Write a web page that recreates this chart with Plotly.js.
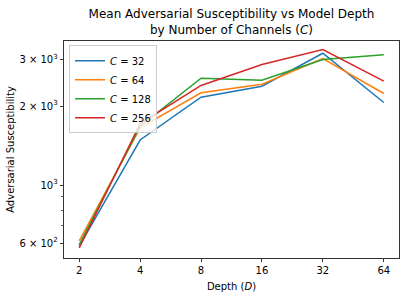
<!DOCTYPE html>
<html>
<head>
<meta charset="utf-8">
<script src="https://cdn.plot.ly/plotly-3.0.1.min.js"></script>
<style>html,body{margin:0;padding:0;background:#fff;}#chart{width:405px;height:300px;}</style>
</head>
<body>
<div id="chart"></div>
<script>
const depths = [2, 4, 8, 16, 32, 64];
const seriesNames = ["<i>C</i> = 32", "<i>C</i> = 64", "<i>C</i> = 128", "<i>C</i> = 256"];
const c32 = [585, 1485, 2163, 2383, 3184, 2064];
const c64 = [612, 1653, 2248, 2425, 3039, 2235];
const c128 = [592, 1677, 2556, 2512, 3013, 3140];
const c256 = [575, 1717, 2398, 2884, 3290, 2490];
const colors = ["#1f77b4", "#ff7f0e", "#2ca02c", "#d62728"];
const yTickVals = [600, 1000, 2000, 3000];
const yTickText = ["6 × 10<sup>2</sup>", "10<sup>3</sup>", "2 × 10<sup>3</sup>", "3 × 10<sup>3</sup>"];
const yMinorVals = [700, 800, 900];
const xTickText = ["2", "4", "8", "16", "32", "64"];

const all = [c32, c64, c128, c256];
const traces = all.map((ys, i) => ({
  x: depths, y: ys, type: "scatter", mode: "lines", name: seriesNames[i],
  line: {color: colors[i], width: 1.5}
}));

const font = {family: "DejaVu Sans, sans-serif", size: 10, color: "#000"};
const layout = {
  width: 405, height: 300,
  margin: {l: 64, r: 6, t: 41, b: 42},
  paper_bgcolor: "#fff", plot_bgcolor: "#fff",
  font: font,
  showlegend: true,
  title: {
    text: "Mean Adversarial Susceptibility vs Model Depth<br>by Number of Channels (<i>C</i>)",
    font: {family: "DejaVu Sans, sans-serif", size: 12, color: "#000"},
    x: 0.5, xref: "paper", xanchor: "center", y: 0.94, yref: "container", yanchor: "middle"
  },
  xaxis: {
    type: "log",
    range: [Math.log10(Math.pow(2, 0.75)), Math.log10(Math.pow(2, 6.25))],
    tickmode: "array", tickvals: depths, ticktext: xTickText,
    ticks: "outside", ticklen: 3.5, tickwidth: 0.8, tickcolor: "#000",
    showline: true, linecolor: "#000", linewidth: 0.8, mirror: true,
    showgrid: false, zeroline: false,
    title: {text: "Depth (<i>D</i>)", font: font, standoff: 7},
    tickfont: font
  },
  yaxis: {
    type: "log",
    range: [2.7214, 3.5496],
    tickmode: "array", tickvals: yTickVals, ticktext: yTickText,
    ticks: "outside", ticklen: 3.5, tickwidth: 0.8, tickcolor: "#000",
    minor: {tickmode: "array", tickvals: yMinorVals, ticks: "outside", ticklen: 2, tickwidth: 0.6, tickcolor: "#000", showgrid: false},
    showline: true, linecolor: "#000", linewidth: 0.8, mirror: true,
    showgrid: false, zeroline: false,
    title: {text: "Adversarial Susceptibility", font: font, standoff: 2},
    tickfont: font
  },
  legend: {
    x: 0.015, y: 0.98, xanchor: "left", yanchor: "top",
    bgcolor: "rgba(255,255,255,0.8)", bordercolor: "#cccccc", borderwidth: 1,
    font: font, tracegroupgap: 0
  }
};
Plotly.newPlot("chart", traces, layout, {displayModeBar: false, staticPlot: true});
</script>
</body>
</html>
